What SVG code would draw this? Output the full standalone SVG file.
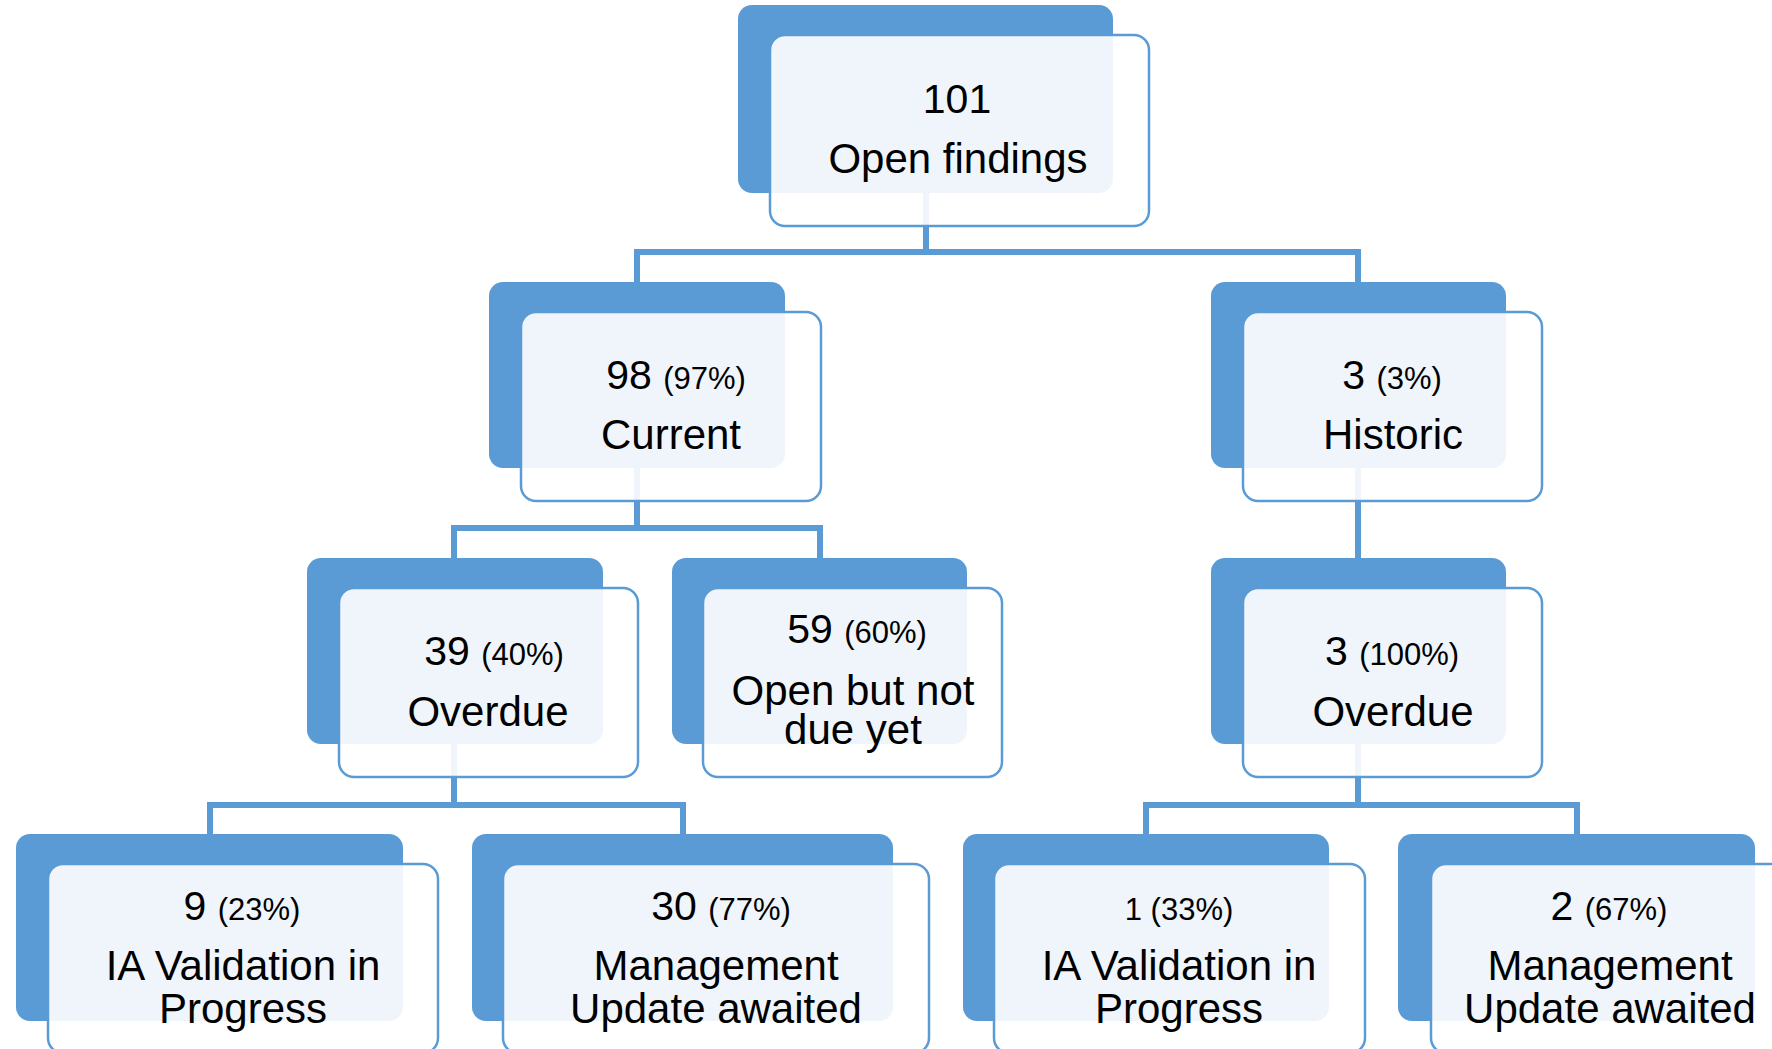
<svg xmlns="http://www.w3.org/2000/svg" width="1772" height="1049" viewBox="0 0 1772 1049">
<style>
.dark{fill:#5B9BD5;}
.light{fill:#FFFFFF;fill-opacity:0.9;stroke:#5B9BD5;stroke-width:2.5;}
.conn{fill:none;stroke:#5B9BD5;stroke-width:6;stroke-linejoin:miter;}
text{font-family:"Liberation Sans",Arial,sans-serif;fill:#000;text-anchor:middle;}
.num{font-size:41px;}
.pct{font-size:31px;}
.lbl{font-size:42px;}
</style>
<rect width="1772" height="1049" fill="#FFFFFF"/>
<g id="connectors">
<path class="conn" d="M926,190 V252 M637,282 V252 H1358 V282"/>
<path class="conn" d="M637,466 V528 M454,558 V528 H820 V558"/>
<path class="conn" d="M1358,466 V558"/>
<path class="conn" d="M454,742 V805 M210,834 V805 H683 V834"/>
<path class="conn" d="M1358,742 V805 M1146,834 V805 H1577 V834"/>
</g>
<g id="node-open-findings">
<rect class="dark" x="738" y="5" width="375" height="188" rx="14"/>
<rect class="light" x="770" y="35" width="379" height="191" rx="15"/>
<text class="num" x="957" y="113">101</text>
<text class="lbl" x="958" y="173">Open findings</text>
</g>
<g id="node-current">
<rect class="dark" x="489" y="282" width="296" height="186" rx="14"/>
<rect class="light" x="521" y="312" width="300" height="189" rx="15"/>
<text x="676" y="389"><tspan class="num">98 </tspan><tspan class="pct">(97%)</tspan></text>
<text class="lbl" x="671" y="449">Current</text>
</g>
<g id="node-historic">
<rect class="dark" x="1211" y="282" width="295" height="186" rx="14"/>
<rect class="light" x="1243" y="312" width="299" height="189" rx="15"/>
<text x="1392" y="389"><tspan class="num">3 </tspan><tspan class="pct">(3%)</tspan></text>
<text class="lbl" x="1393" y="449">Historic</text>
</g>
<g id="node-overdue-current">
<rect class="dark" x="307" y="558" width="296" height="186" rx="14"/>
<rect class="light" x="339" y="588" width="299" height="189" rx="15"/>
<text x="494" y="665"><tspan class="num">39 </tspan><tspan class="pct">(40%)</tspan></text>
<text class="lbl" x="488" y="726">Overdue</text>
</g>
<g id="node-not-due">
<rect class="dark" x="672" y="558" width="295" height="186" rx="14"/>
<rect class="light" x="703" y="588" width="299" height="189" rx="15"/>
<text x="857" y="643"><tspan class="num">59 </tspan><tspan class="pct">(60%)</tspan></text>
<text class="lbl" x="853" y="705">Open but not</text>
<text class="lbl" x="853" y="744">due yet</text>
</g>
<g id="node-overdue-historic">
<rect class="dark" x="1211" y="558" width="295" height="186" rx="14"/>
<rect class="light" x="1243" y="588" width="299" height="189" rx="15"/>
<text x="1392" y="665"><tspan class="num">3 </tspan><tspan class="pct">(100%)</tspan></text>
<text class="lbl" x="1393" y="726">Overdue</text>
</g>
<g id="node-ia-current">
<rect class="dark" x="16" y="834" width="387" height="187" rx="14"/>
<rect class="light" x="48" y="864" width="390" height="189" rx="15"/>
<text x="242" y="920"><tspan class="num">9 </tspan><tspan class="pct">(23%)</tspan></text>
<text class="lbl" x="243" y="980">IA Validation in</text>
<text class="lbl" x="243" y="1023">Progress</text>
</g>
<g id="node-mgmt-current">
<rect class="dark" x="472" y="834" width="421" height="187" rx="14"/>
<rect class="light" x="503" y="864" width="426" height="189" rx="15"/>
<text x="721" y="920"><tspan class="num">30 </tspan><tspan class="pct">(77%)</tspan></text>
<text class="lbl" x="716" y="980">Management</text>
<text class="lbl" x="716" y="1023">Update awaited</text>
</g>
<g id="node-ia-historic">
<rect class="dark" x="963" y="834" width="366" height="187" rx="14"/>
<rect class="light" x="994" y="864" width="371" height="189" rx="15"/>
<text class="pct" x="1179" y="920">1 (33%)</text>
<text class="lbl" x="1179" y="980">IA Validation in</text>
<text class="lbl" x="1179" y="1023">Progress</text>
</g>
<g id="node-mgmt-historic">
<rect class="dark" x="1398" y="834" width="357" height="187" rx="14"/>
<rect class="light" x="1431" y="864" width="360" height="189" rx="15"/>
<text x="1609" y="920"><tspan class="num">2 </tspan><tspan class="pct">(67%)</tspan></text>
<text class="lbl" x="1610" y="980">Management</text>
<text class="lbl" x="1610" y="1023">Update awaited</text>
</g>
</svg>
